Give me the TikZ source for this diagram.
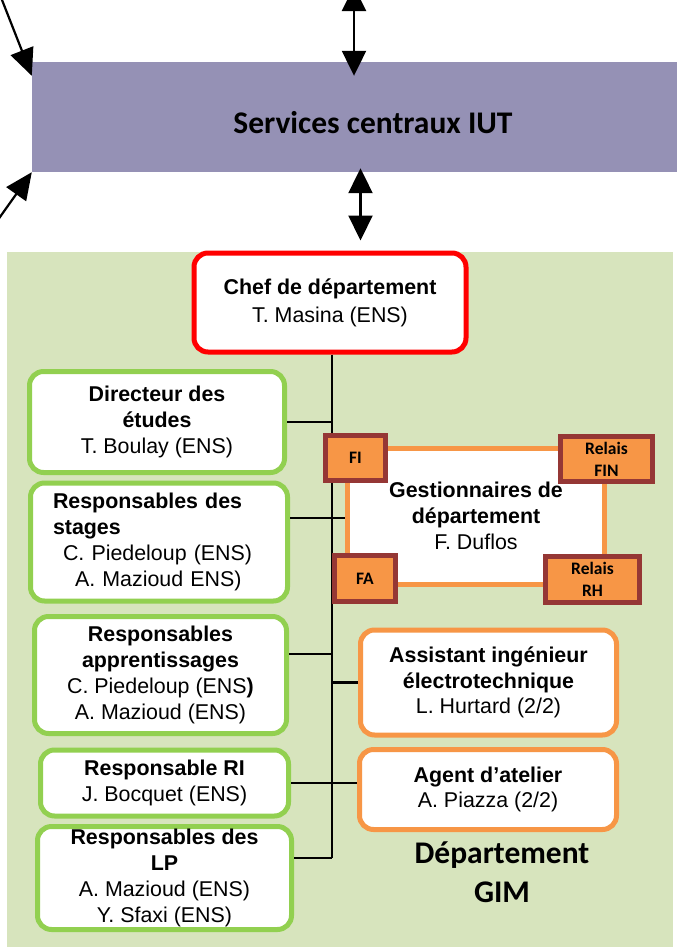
\documentclass[tikz,border=0pt]{standalone}
\usepackage{fontspec}
\setmainfont{Liberation Sans}
\newfontfamily\calfont{Carlito}
\usetikzlibrary{arrows.meta,calc}
\definecolor{purpleband}{HTML}{9591B5}
\definecolor{greenbg}{HTML}{D7E4BD}
\definecolor{greenline}{HTML}{92D050}
\definecolor{orangeline}{HTML}{F79646}
\definecolor{tagborder}{HTML}{953735}
\tikzset{
  box/.style={draw, line width=5pt, rounded corners=14pt, fill=white, align=center,
    inner sep=0pt, font=\fontsize{21.4}{25.8}\selectfont},
  greenbox/.style={box, draw=greenline},
  orangebox/.style={box, draw=orangeline},
  tagbox/.style={draw=tagborder, fill=orangeline, line width=5pt, align=center, inner sep=0pt,
    font=\calfont\bfseries\fontsize{17.5}{22}\selectfont},
  conn/.style={line width=2.6pt},
  bigarrow/.style={line width=2.2pt, {Triangle[length=25pt,width=24pt]}-{Triangle[length=25pt,width=24pt]}},
  onearrow/.style={line width=2.2pt, -{Triangle[length=27pt,width=24pt]}}
}
\begin{document}
\begin{tikzpicture}[x=1pt,y=-1pt]
\useasboundingbox (0,0) rectangle (677,951);
% green department background
\fill[greenbg] (7,252) rectangle (673,947);
% central services band
\node[fill=purpleband, minimum width=682pt, minimum height=110pt, inner sep=0pt,
  text height=32pt, text depth=0pt, font=\calfont\bfseries\fontsize{31.5}{37}\selectfont]
  (sc) at (373,117) {Services centraux IUT};
% coordinates for free ends
\coordinate (t1) at (354,-14);
\coordinate (b1) at (360.5,0);
\coordinate (l1) at (-2.7,-12);
\coordinate (l2) at (-5,224);
\coordinate (sp1) at (332,352);
\coordinate (sp2) at (332,858);
% arrows
\draw[bigarrow] (t1) -- ($(sc.north -| t1)+(0,14)$);
\draw[onearrow] (l1) -- ($(sc.north west)+(0,14)$);
\draw[onearrow] (l2) -- (sc.south west);
% chef
\node[box, draw=red, minimum width=272pt, minimum height=99pt, font=\fontsize{21.4}{28}\selectfont]
  (chef) at (330,302.5) {\textbf{Chef de département}\\T. Masina (ENS)};
\draw[bigarrow] ($(sc.south -| b1)+(0,-4)$) -- ($(chef.north -| b1)+(0,-10)$);
% connectors
\draw[conn] (chef.south -| sp1) -- (sp2);
% left boxes
\node[greenbox, minimum width=255pt, minimum height=101pt] (dir) at (157,422)
  {\textbf{Directeur des}\\\textbf{études}\\T. Boulay (ENS)};
\node[greenbox, minimum width=257pt, minimum height=118pt, align=left, text width=212pt] (stages) at (159,542)
  {\textbf{Responsables des}\\\textbf{stages}\\\hspace*{10pt}C. Piedeloup (ENS)\\\hspace*{22pt}A. Mazioud ENS)};
\node[greenbox, minimum width=252pt, minimum height=117pt] (appr) at (160.5,675)
  {\textbf{Responsables}\\\textbf{apprentissages}\\C. Piedeloup (ENS\textbf{)}\\A. Mazioud (ENS)};
\node[greenbox, minimum width=248pt, minimum height=66pt] (ri) at (164.5,783)
  {\textbf{Responsable RI}\\J. Bocquet (ENS)};
\node[greenbox, minimum width=254pt, minimum height=103pt] (lp) at (164.5,878)
  {\textbf{Responsables des}\\\textbf{LP}\\A. Mazioud (ENS)\\Y. Sfaxi (ENS)};
% right boxes
\node[draw=orangeline, fill=white, line width=5pt, align=center, inner sep=0pt,
  minimum width=257pt, minimum height=136pt, font=\fontsize{21.4}{25.8}\selectfont]
  (gest) at (476,516) {\textbf{Gestionnaires de}\\\textbf{département}\\F. Duflos};
\node[orangebox, minimum width=256pt, minimum height=105pt] (assist) at (488.5,682.5)
  {\textbf{Assistant ingénieur}\\\textbf{électrotechnique}\\L. Hurtard (2/2)};
\node[orangebox, minimum width=257pt, minimum height=80pt] (agent) at (488,789.5)
  {\textbf{Agent d’atelier}\\A. Piazza (2/2)};
% tags
\node[tagbox, minimum width=60pt, minimum height=45pt] (fi) at (355.5,458) {FI};
\node[tagbox, minimum width=92pt, minimum height=45pt] (fin) at (606.5,459) {Relais\\FIN};
\node[tagbox, minimum width=61pt, minimum height=46pt] (fa) at (365,578.5) {FA};
\node[tagbox, minimum width=94pt, minimum height=46pt] (rh) at (592.5,579.5) {Relais\\RH};
% department label
\node[align=center, inner sep=0pt, font=\calfont\bfseries\fontsize{31.5}{39}\selectfont]
  (dept) at (502,872.5) {Département\\GIM};
% other connectors
\draw[conn] (dir.east) -- (dir.east -| sp1);
\draw[conn] ($(gest.west -| stages.east)+(0,2)$) -- ($(gest.west)+(0,2)$);
\draw[conn] ($(appr.east)+(0,-21)$) -- ($(appr.east -| sp1)+(0,-21)$);
\draw[conn] (assist.west -| sp1) -- (assist.west);
\draw[conn] (ri.east) -- (ri.east -| agent.west);
\draw[conn] ($(lp.east)+(0,-20)$) -- (sp2);
\end{tikzpicture}
\end{document}
